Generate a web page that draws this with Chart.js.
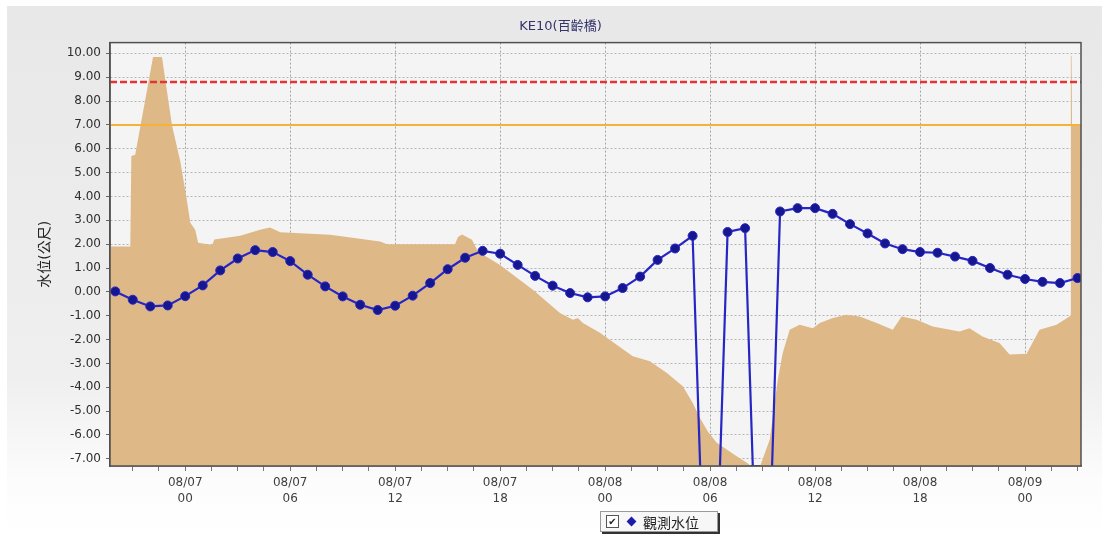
<!DOCTYPE html>
<html lang="zh-Hant">
<head>
    <meta charset="UTF-8">
    <title>KE10(百齡橋)</title>
    <script src="https://cdn.jsdelivr.net/npm/chart.js"></script>
    <style>
        body { margin: 0; background: #fff; }
        .painel { position: relative; width: 1108px; height: 539px; }
        .legenda {
            position: absolute; left: 600px; top: 511px; width: 116px; height: 19px;
            border: 1px solid #9a9a9a; background: #f7f7f7; box-shadow: 2px 2px 0 #333;
            font-family: 'Noto Sans CJK TC', sans-serif; font-size: 14px; color: #222;
            display: flex; align-items: center;
        }
        .caixa {
            width: 11px; height: 11px; border: 1px solid #555; background: #fff;
            margin-left: 5px; font-size: 10px; line-height: 11px; text-align: center;
            font-family: 'DejaVu Sans', sans-serif;
        }
        .losango { width: 7px; height: 7px; background: #1c1ca8; transform: rotate(45deg); margin-left: 9px; }
        .texto { margin-left: 8px; }
    </style>
</head>
<body>
    <div class="painel">
        <canvas id="graficoNivel" width="1108" height="539"></canvas>
        <div class="legenda">
            <span class="caixa">&#10004;</span>
            <span class="losango"></span>
            <span class="texto">觀測水位</span>
        </div>
    </div>
<script>
    // hours counted from 08/07 00:00
    var xMin = -4.3, xMax = 51.2
    var yMin = -7.3, yMax = 10.45

    // observed water level, hourly from 08/06 20:00
    var inicioObs = -4
    var nivelObs = [0.02, -0.33, -0.61, -0.57, -0.18, 0.27, 0.90, 1.40, 1.75, 1.67, 1.29, 0.72, 0.23, -0.19,
        -0.54, -0.76, -0.58, -0.16, 0.37, 0.95, 1.43, 1.72, 1.60, 1.13, 0.67, 0.26, -0.05, -0.23, -0.19, 0.16,
        0.64, 1.34, 1.82, 2.35, -20, 2.51, 2.67, -20, 3.37, 3.51, 3.51, 3.27, 2.84, 2.45, 2.03, 1.79, 1.67,
        1.64, 1.48, 1.30, 1.00, 0.72, 0.54, 0.42, 0.37, 0.58]

    // tan background area
    var areaHoras = [-4.3, -3.14, -3.08, -2.86, -1.84, -1.33, -0.76, -0.29, 0.06, 0.29, 0.57, 0.74, 1.54, 1.66,
        3.14, 4.28, 4.85, 5.43, 8.28, 11.14, 11.54, 15.42, 15.59, 15.82, 16.39, 16.73, 17.99, 19.87, 21.42,
        22.16, 22.44, 22.73, 23.70, 25.58, 26.56, 27.53, 28.44, 29.01, 29.41, 29.87, 30.38, 30.95, 31.52,
        32.10, 32.44, 32.84, 33.41, 33.87, 34.15, 34.55, 35.12, 35.87, 36.27, 37.01, 37.81, 38.55, 39.52,
        40.44, 40.95, 41.81, 42.72, 44.26, 44.83, 45.57, 46.54, 47.12, 48.09, 48.83, 49.80, 50.54, 50.60,
        50.62, 50.66, 50.69, 51.2]
    var areaNiveis = [1.90, 1.90, 5.70, 5.75, 9.85, 9.85, 7.00, 5.50, 4.00, 2.90, 2.60, 2.06, 1.97, 2.20,
        2.35, 2.60, 2.70, 2.50, 2.39, 2.11, 2.00, 2.00, 2.30, 2.40, 2.18, 1.69, 1.13, 0.09, -0.89,
        -1.17, -1.10, -1.30, -1.71, -2.70, -2.91, -3.40, -3.96, -4.66, -5.28, -5.85, -6.33, -6.61, -6.89,
        -7.16, -7.35, -7.35, -6.19, -3.68, -2.56, -1.59, -1.38, -1.52, -1.31, -1.10, -0.96, -1.03, -1.31,
        -1.59, -1.03, -1.17, -1.45, -1.66, -1.52, -1.87, -2.14, -2.63, -2.59, -1.59, -1.38, -1.03, -1.00,
        9.90, 9.90, 7.00, 6.95]

    var alertaVermelho = 8.8
    var alertaLaranja = 7.0

    var yTicks = [-7, -6, -5, -4, -3, -2, -1, 0, 1, 2, 3, 4, 5, 6, 7, 8, 9, 10]
    var horasMaiores = [0, 6, 12, 18, 24, 30, 36, 42, 48]
    var rotuloData = ['08/07', '08/07', '08/07', '08/07', '08/08', '08/08', '08/08', '08/08', '08/09']
    var rotuloHora = ['00', '06', '12', '18', '00', '06', '12', '18', '00']

    var xTicks = []
    for (var t = -3; t <= xMax; t += 1.5) xTicks.push(t)

    var serieObs = nivelObs.map(function (v, i) { return { x: inicioObs + i, y: v } })
    var serieArea = areaHoras.map(function (h, i) { return { x: h, y: areaNiveis[i] } })

    const fundo = {
        id: 'fundo',
        beforeDraw(chart) {
            const ctx = chart.ctx, a = chart.chartArea
            ctx.save()
            const g = ctx.createLinearGradient(0, 6, 0, 535)
            g.addColorStop(0, '#e8e8e8')
            g.addColorStop(0.7, '#efefef')
            g.addColorStop(0.9, '#fcfcfc')
            g.addColorStop(1, '#ffffff')
            ctx.fillStyle = g
            ctx.fillRect(7, 6, 1095, 529)
            ctx.fillStyle = '#f4f4f4'
            ctx.fillRect(a.left, a.top, a.right - a.left, a.bottom - a.top)
            ctx.restore()
        },
        afterDraw(chart) {
            const ctx = chart.ctx, a = chart.chartArea
            ctx.save()
            ctx.strokeStyle = '#505050'
            ctx.lineWidth = 1.5
            ctx.strokeRect(a.left, a.top, a.right - a.left, a.bottom - a.top)
            ctx.restore()
        }
    }

    const ctx = document.getElementById('graficoNivel').getContext('2d')
    const graficoNivel = new Chart(ctx, {
        type: 'line',
        data: {
            datasets: [{
                label: '觀測水位',
                data: serieObs,
                borderColor: '#2626c4',
                borderWidth: 2.2,
                pointRadius: 4.5,
                pointBackgroundColor: '#16168f',
                pointBorderColor: '#2626c4',
                pointBorderWidth: 1,
                tension: 0,
                order: 0
            }, {
                label: 'red',
                data: [{ x: xMin, y: alertaVermelho }, { x: xMax, y: alertaVermelho }],
                borderColor: '#e23636',
                borderWidth: 2.5,
                borderDash: [7, 3],
                pointRadius: 0,
                order: 1
            }, {
                label: 'orange',
                data: [{ x: xMin, y: alertaLaranja }, { x: xMax, y: alertaLaranja }],
                borderColor: '#f5b335',
                borderWidth: 2,
                pointRadius: 0,
                order: 1
            }, {
                label: 'area',
                data: serieArea,
                borderWidth: 0,
                backgroundColor: '#deb887',
                fill: 'start',
                pointRadius: 0,
                tension: 0,
                order: 2
            }]
        },
        plugins: [fundo],
        options: {
            responsive: false,
            animation: false,
            layout: { padding: { left: 40, right: 27, top: 0, bottom: 0 } },
            plugins: {
                legend: { display: false },
                tooltip: { enabled: false },
                title: {
                    display: true,
                    text: 'KE10(百齡橋)',
                    color: '#33336e',
                    font: { family: "'DejaVu Sans', 'Noto Sans CJK TC'", size: 13, weight: 'normal' },
                    padding: { top: 19, bottom: 8 }
                }
            },
            scales: {
                x: {
                    type: 'linear',
                    min: xMin,
                    max: xMax,
                    afterBuildTicks: function (s) { s.ticks = xTicks.map(function (v) { return { value: v } }) },
                    afterFit: function (s) { s.height = 73 },
                    ticks: {
                        autoSkip: false,
                        maxRotation: 0,
                        padding: 4,
                        color: '#404040',
                        font: { family: "'DejaVu Sans'", size: 12, lineHeight: 1.35 },
                        callback: function (v) {
                            var k = horasMaiores.indexOf(v)
                            return k >= 0 ? [rotuloData[k], rotuloHora[k]] : ''
                        }
                    },
                    grid: {
                        color: function (c) { return c.tick && horasMaiores.indexOf(c.tick.value) >= 0 ? '#a4a4a4' : 'rgba(0,0,0,0)' },
                        tickColor: '#777',
                        tickLength: 5
                    },
                    border: { color: '#505050', width: 1.5, dash: [2, 2] }
                },
                y: {
                    min: yMin,
                    max: yMax,
                    afterBuildTicks: function (s) { s.ticks = yTicks.map(function (v) { return { value: v } }) },
                    afterFit: function (s) { s.width = 70 },
                    ticks: {
                        padding: 5,
                        color: '#2e2e2e',
                        font: { family: "'DejaVu Sans'", size: 12 },
                        callback: function (v) { return v.toFixed(2) }
                    },
                    grid: { color: '#b4b4b4', tickColor: '#666', tickLength: 4 },
                    border: { color: '#505050', width: 1.5, dash: [2, 2] },
                    title: {
                        display: true,
                        text: '水位(公尺)',
                        color: '#222',
                        font: { family: "'DejaVu Sans', 'Noto Sans CJK TC'", size: 14 },
                        padding: { top: -3, bottom: 0 }
                    }
                }
            }
        }
    })
</script>
</body>
</html>
